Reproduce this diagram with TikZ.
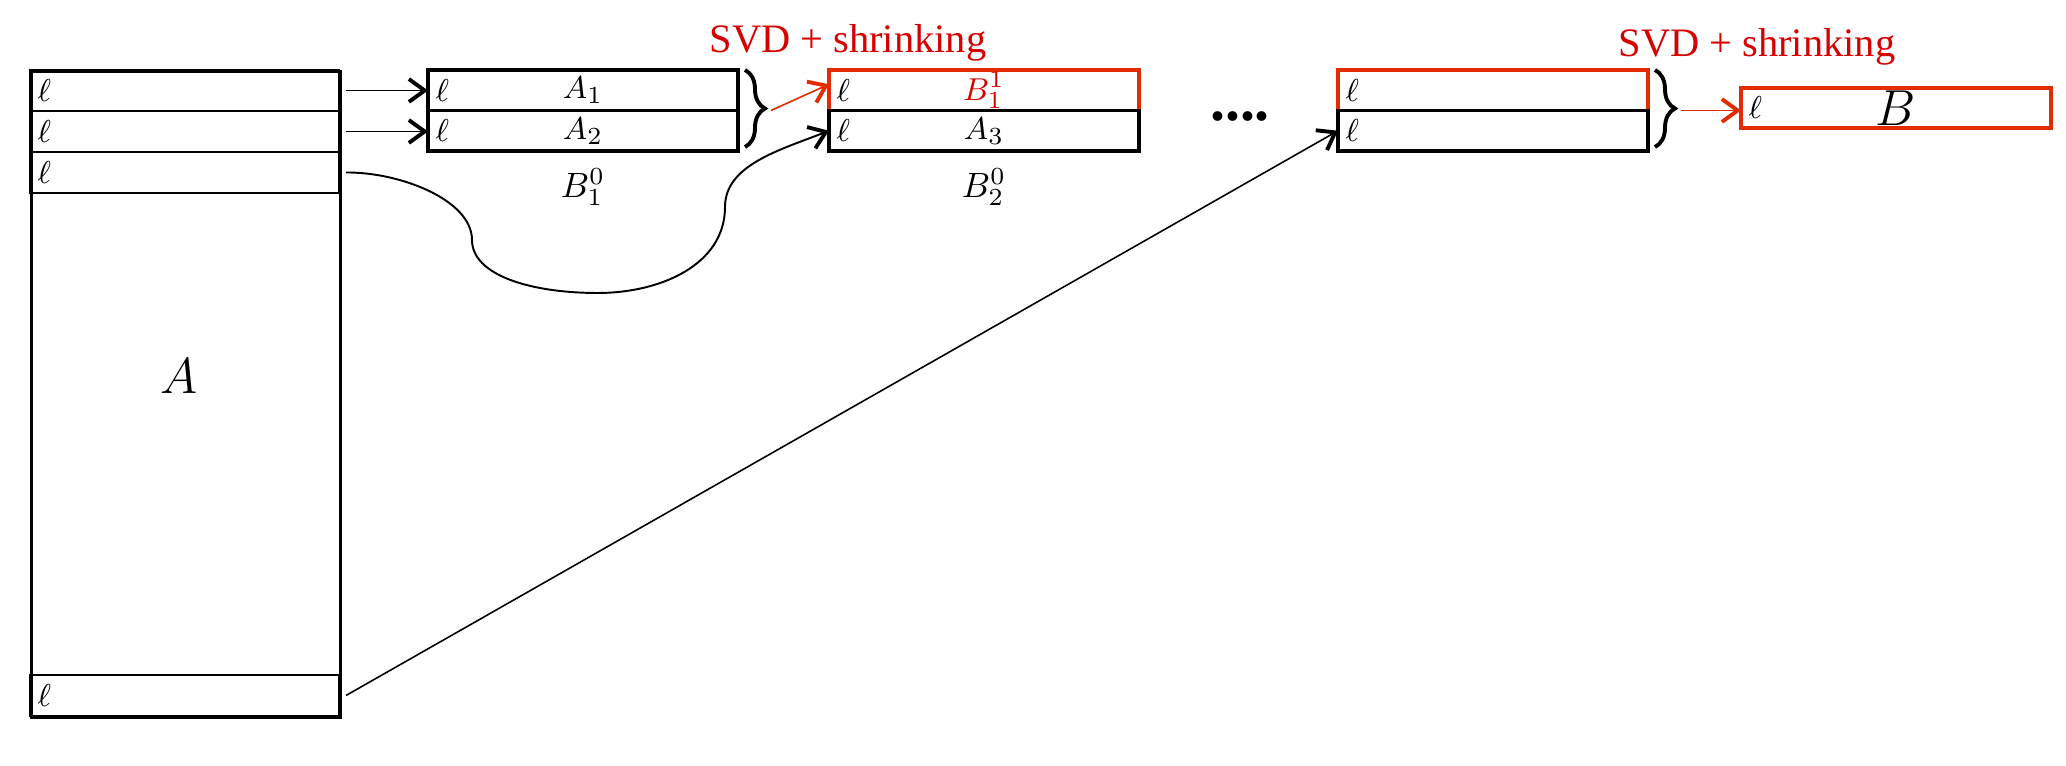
\documentclass[tikz,border=0pt]{standalone}
\usepackage{fontspec}
\setmainfont{Liberation Serif}
\usetikzlibrary{arrows.meta, positioning, calc, decorations.pathreplacing}
\definecolor{svdred}{RGB}{214,0,0}
\definecolor{boxred}{RGB}{226,44,0}
\tikzset{
  arow/.style   = {draw, rectangle, line width=0.65pt, inner sep=0pt, outer sep=0pt,
                   minimum width=3.09cm, minimum height=0.41cm},
  blk/.style    = {draw, rectangle, line width=1.1pt, inner sep=0pt, outer sep=0pt,
                   minimum width=3.1cm, minimum height=0.405cm,
                   font=\fontsize{9.5}{10}\selectfont},
  redblk/.style = {blk, draw=boxred, text=svdred},
  ell/.style    = {font=\fontsize{9}{10}\selectfont, inner sep=2pt},
  lbl/.style    = {font=\fontsize{10}{12}\selectfont},
  svd/.style    = {text=svdred, font=\fontsize{11.5}{13}\selectfont},
  arr/.style    = {-{Straight Barb[length=4.5pt, width=6.5pt, line width=1.1pt]},
                   line width=0.45pt},
  redarr/.style = {arr, draw=boxred},
  brc/.style    = {decorate, decoration={brace, amplitude=0.2cm}, line width=1.1pt},
  node distance = 0pt
}

\begin{document}
\begin{tikzpicture}
  \useasboundingbox (0,0) rectangle (20.66,-7.66);

  % ── Matrix A (rows of l lines) ───────────────────────────────────────────
  \node[arow, anchor=north west] (r1) at (0.30,-0.70) {};
  \node[arow, below=0pt of r1]   (r2) {};
  \node[arow, below=0pt of r2]   (r3) {};
  \node[arow, anchor=south west] (rn) at (0.30,-7.16) {};
  \node[draw, line width=0.9pt, inner sep=0pt, minimum width=3.09cm,
        minimum height=6.46cm, anchor=north west] (Abox) at (0.30,-0.70) {};
  \node[font=\fontsize{14.5}{16}\selectfont] (Alab) at (1.79,-3.76) {$A$};

  % ── First buffer B_1^0 ───────────────────────────────────────────────────
  \node[blk, anchor=north west] (b1a) at (4.28,-0.70) {$A_1$};
  \node[blk, below=0pt of b1a]  (b1b) {$A_2$};
  \node[lbl, below=0.05cm of b1b] (B10) {$B_1^{0}$};

  % ── Second buffer B_2^0 ──────────────────────────────────────────────────
  \node[redblk, anchor=north west] (b2a) at (8.29,-0.70) {$B_1^{1}$};
  \node[blk, below=0pt of b2a]     (b2b) {$A_3$};
  \node[lbl, below=0.05cm of b2b]  (B20) {$B_2^{0}$};

  \node[font=\fontsize{17}{17}\selectfont\bfseries] (dots) at (12.40,-1.17) {....};

  % ── Last buffer and output B ─────────────────────────────────────────────
  \node[redblk, anchor=north west] (b3a) at (13.38,-0.70) {};
  \node[blk, below=0pt of b3a]     (b3b) {};
  \node[redblk, anchor=west, text=black, font=\fontsize{14}{16}\selectfont]
        (Bout) at (17.41,-1.08) {$B$};

  % l in every row
  \foreach \r in {r1,r2,r3,rn,b1a,b1b,b2a,b2b,b3a,b3b,Bout}
    \node[ell, right=0pt of \r.west] (\r-ell) {$\ell$};

  % ── Braces + SVD step ────────────────────────────────────────────────────
  \draw[brc] ([xshift=0.07cm]b1a.north east) -- ([xshift=0.07cm,yshift=0.04cm]b1b.south east);
  \draw[brc] ([xshift=0.07cm]b3a.north east) -- ([xshift=0.07cm,yshift=0.04cm]b3b.south east);
  \coordinate (br1) at ($(b1a.north east)!0.5!(b1b.south east)+(0.33,0)$);
  \coordinate (br3) at ($(b3a.north east)!0.5!(b3b.south east)+(0.33,0)$);

  \node[svd, anchor=base] (svd1) at (8.48,-0.53)  {SVD + shrinking};
  \node[svd, anchor=base] (svd2) at (17.57,-0.57) {SVD + shrinking};

  % ── Connections ──────────────────────────────────────────────────────────
  \draw[arr] ([xshift=0.07cm]r1.east) -- (r1.east -| b1a.west);
  \draw[arr] ([xshift=0.07cm]r2.east) -- (r2.east -| b1b.west);
  \draw[arr, line width=0.55pt] ([xshift=0.07cm]r3.east)
       .. controls (4.00,-1.72) and (4.72,-2.00) .. (4.72,-2.40)
       .. controls (4.72,-2.75) and (5.30,-2.93) .. (5.98,-2.93)
       .. controls (6.60,-2.93) and (7.25,-2.65) .. (7.25,-2.07)
       .. controls (7.25,-1.65) and (7.80,-1.50) .. (b2b.west);
  \draw[arr] ([xshift=0.07cm]rn.east) -- (b3b.west);

  \draw[redarr] (br1) -- ([yshift=0.06cm]b2a.west);
  \draw[redarr] (br3) -- (br3 -| Bout.west);

\end{tikzpicture}
\end{document}
